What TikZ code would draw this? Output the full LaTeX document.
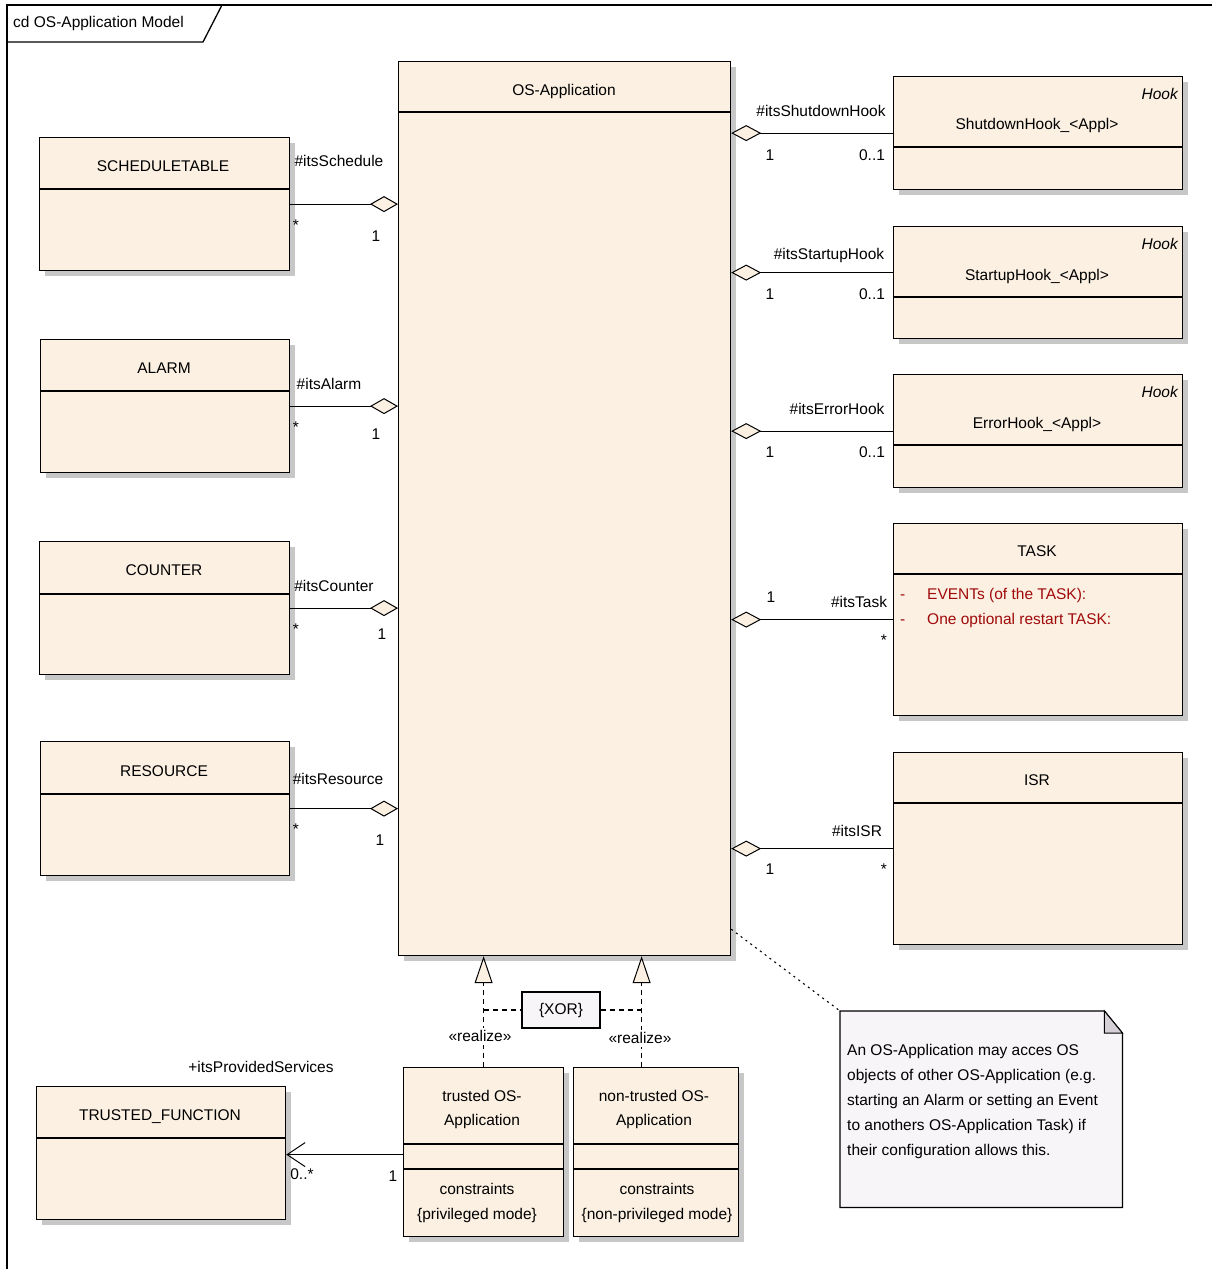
\documentclass[tikz,border=0pt]{standalone}
\usepackage{fontspec}
\setmainfont{Liberation Sans}
\usetikzlibrary{arrows.meta,shadows,calc}
\definecolor{boxfill}{RGB}{251,240,226}
\definecolor{notefill}{RGB}{248,245,248}
\definecolor{foldfill}{RGB}{212,208,214}
\definecolor{attred}{RGB}{160,10,10}
\newcommand\umlcls[6]{%
  \node[umlbox, anchor=north west, minimum width=#4pt, minimum height=#5pt] (#1) at (#2,#3) {};
  \draw[line width=1.2pt] ([yshift=-#6pt]#1.north west) -- ([yshift=-#6pt]#1.north east);
}
\begin{document}
\begin{tikzpicture}[x=1pt,y=-1pt,
  font=\fontsize{15.5}{18}\selectfont,
  umlbox/.style={draw, line width=1.2pt, fill=boxfill, inner sep=0pt,
    drop shadow={shadow xshift=5pt, shadow yshift=-5pt, fill=black!22, opacity=1}},
  lbl/.style={inner sep=0pt, text height=11pt, text depth=0pt},
  ttl/.style={inner sep=0pt, text height=11pt, text depth=0pt},
  aggr/.style={line width=1.2pt, -{Diamond[fill=boxfill, length=28pt, width=16pt, line width=1pt]}},
  aggl/.style={line width=1.2pt, {Diamond[fill=boxfill, length=30pt, width=16pt, line width=1pt]}-},
  realize/.style={line width=1.1pt, dash pattern=on 5pt off 4pt, -{Triangle[fill=boxfill, length=27pt, width=18pt, line width=1pt, sep=0pt]}},
  xorline/.style={line width=1.1pt, dash pattern=on 5pt off 4pt},
  dep/.style={line width=1.2pt, -{Straight Barb[length=18pt, width=24pt, line width=1pt]}},
  notelink/.style={line width=1.1pt, dash pattern=on 2pt off 4pt}
]
\useasboundingbox (0,0) rectangle (1211,1269);
\fill[white] (0,0) rectangle (1211,1269);
% frame
\draw[line width=1.3pt] (7,1280) -- (7,5) -- (1220,5);
\draw[line width=1.3pt] (7,42) -- (203,42) -- (222,5);
\node[anchor=west, lbl] (frametitle) at (13,22) {cd OS-Application Model};

% classes
\umlcls{osapp}{398}{61}{332}{894}{51}
\umlcls{sched}{39}{137}{250}{133}{52}
\umlcls{alarm}{40}{339}{249}{133}{52}
\umlcls{counter}{39}{541}{250}{133}{53}
\umlcls{resource}{40}{741}{249}{134}{53}
\umlcls{shut}{893}{76}{289}{113}{71}
\umlcls{start}{893}{226}{289}{112}{71}
\umlcls{err}{893}{374}{289}{113}{71}
\umlcls{task}{893}{523}{289}{192}{51}
\umlcls{isr}{893}{752}{289}{192}{51}
\umlcls{tf}{36}{1086}{249}{133}{52}
\umlcls{trusted}{403}{1067}{160}{169}{77}
\draw[line width=1.2pt] ([yshift=-102pt]trusted.north west) -- ([yshift=-102pt]trusted.north east);
\umlcls{nontr}{573}{1067}{165}{169}{77}
\draw[line width=1.2pt] ([yshift=-102pt]nontr.north west) -- ([yshift=-102pt]nontr.north east);

% titles
\node[ttl] (t-osapp) at (564,90) {OS-Application};
\node[ttl] (t-sched) at (163,166) {SCHEDULETABLE};
\node[ttl] (t-alarm) at (164,368) {ALARM};
\node[ttl] (t-counter) at (164,570) {COUNTER};
\node[ttl] (t-resource) at (164,771) {RESOURCE};
\node[ttl, anchor=east] (s-shut) at (1178,94) {\itshape Hook};
\node[ttl] (t-shut) at (1037,124) {ShutdownHook\_<Appl>};
\node[ttl, anchor=east] (s-start) at (1178,244) {\itshape Hook};
\node[ttl] (t-start) at (1037,275) {StartupHook\_<Appl>};
\node[ttl, anchor=east] (s-err) at (1178,392) {\itshape Hook};
\node[ttl] (t-err) at (1037,423) {ErrorHook\_<Appl>};
\node[ttl] (t-task) at (1037,551) {TASK};
\node[ttl, anchor=west, text=attred] (a1d) at (900,594) {-};
\node[ttl, anchor=west, text=attred] (a1) at (927,594) {EVENTs (of the TASK):};
\node[ttl, anchor=west, text=attred] (a2d) at (900,619) {-};
\node[ttl, anchor=west, text=attred] (a2) at (927,619) {One optional restart TASK:};
\node[ttl] (t-isr) at (1037,780) {ISR};
\node[ttl] (t-tf) at (160,1115) {TRUSTED\_FUNCTION};
\node[inner sep=0pt, align=center, font=\fontsize{15.5}{24}\selectfont] (t-trusted) at (482,1109) {trusted OS-\\Application};
\node[inner sep=0pt, align=center, font=\fontsize{15.5}{25}\selectfont] (c-trusted) at (477,1203) {constraints\\\{privileged mode\}};
\node[inner sep=0pt, align=center, font=\fontsize{15.5}{24}\selectfont] (t-nontr) at (654,1109) {non-trusted OS-\\Application};
\node[inner sep=0pt, align=center, font=\fontsize{15.5}{25}\selectfont] (c-nontr) at (657,1203) {constraints\\\{non-privileged mode\}};

% left aggregations
\draw[aggr] (sched.east) -- (sched.east -| osapp.west);
\draw[aggr] (alarm.east) -- (alarm.east -| osapp.west);
\draw[aggr] (counter.east) -- (counter.east -| osapp.west);
\draw[aggr] (resource.east) -- (resource.east -| osapp.west);
% right aggregations
\draw[aggl] (osapp.east |- shut.west) -- (shut.west);
\coordinate (startc) at ([yshift=10pt]start.west);
\draw[aggl] (osapp.east |- startc) -- (startc);
\draw[aggl] (osapp.east |- err.west) -- (err.west);
\draw[aggl] (osapp.east |- task.west) -- (task.west);
\draw[aggl] (osapp.east |- isr.west) -- (isr.west);

% association labels
\node[lbl] (l-s1) at (339,161) {\#itsSchedule};
\node[lbl] (l-s2) at (296,225) {*};
\node[lbl] (l-s3) at (376,236) {1};
\node[lbl] (l-a1) at (329,384) {\#itsAlarm};
\node[lbl] (l-a2) at (296,427) {*};
\node[lbl] (l-a3) at (376,434) {1};
\node[lbl] (l-c1) at (334,586) {\#itsCounter};
\node[lbl] (l-c2) at (296,629) {*};
\node[lbl] (l-c3) at (382,634) {1};
\node[lbl] (l-r1) at (338,779) {\#itsResource};
\node[lbl] (l-r2) at (296,829) {*};
\node[lbl] (l-r3) at (380,840) {1};
\node[lbl] (l-h1) at (821,111) {\#itsShutdownHook};
\node[lbl] (l-h2) at (770,155) {1};
\node[lbl] (l-h3) at (872,155) {0..1};
\node[lbl] (l-p1) at (829,254) {\#itsStartupHook};
\node[lbl] (l-p2) at (770,294) {1};
\node[lbl] (l-p3) at (872,294) {0..1};
\node[lbl] (l-e1) at (837,409) {\#itsErrorHook};
\node[lbl] (l-e2) at (770,452) {1};
\node[lbl] (l-e3) at (872,452) {0..1};
\node[lbl] (l-t1) at (771,597) {1};
\node[lbl] (l-t2) at (859,602) {\#itsTask};
\node[lbl] (l-t3) at (884,640) {*};
\node[lbl] (l-i1) at (857,831) {\#itsISR};
\node[lbl] (l-i2) at (770,869) {1};
\node[lbl] (l-i3) at (884,869) {*};

% realizations
\coordinate (rt) at (trusted.north);
\coordinate (rn) at ([xshift=-14.5pt]nontr.north);
\draw[realize] (rt) -- (rt |- osapp.south);
\draw[realize] (rn) -- (rn |- osapp.south);
\node[draw, line width=1.1pt, fill=notefill, minimum width=78pt, minimum height=36pt, inner sep=0pt] (xor) at (561,1010) {\{XOR\}};
\draw[xorline] (rt |- xor.west) -- (xor.west);
\draw[xorline] (xor.east) -- (rn |- xor.east);
\node[lbl, fill=white, inner xsep=1pt, inner ysep=3pt] (l-rz1) at (480,1036) {«realize»};
\node[lbl, fill=white, inner xsep=1pt, inner ysep=3pt] (l-rz2) at (640,1038) {«realize»};

% dependency to trusted function
\coordinate (dp) at ([yshift=-2.5pt]trusted.west);
\draw[dep] (dp) -- (dp -| tf.east);
\node[lbl] (l-d1) at (261,1067) {+itsProvidedServices};
\node[lbl] (l-d2) at (302,1174) {0..*};
\node[lbl] (l-d3) at (393,1176) {1};

% note
\node[anchor=north west, minimum width=282pt, minimum height=196pt, inner sep=0pt] (note) at (840,1011) {};
\draw[line width=1.2pt, fill=notefill] (note.north west) -- ([xshift=-18pt]note.north east) -- ([yshift=-22pt]note.north east) -- (note.south east) -- (note.south west) -- cycle;
\draw[line width=1pt, fill=foldfill] ([xshift=-18pt]note.north east) -- ([xshift=-18pt,yshift=-22pt]note.north east) -- ([yshift=-22pt]note.north east) -- cycle;
\node[anchor=north west, inner sep=0pt, align=left, font=\fontsize{15.5}{25}\selectfont] (notetext) at (847,1044) {An OS-Application may acces OS\\objects of other OS-Application (e.g.\\starting an Alarm or setting an Event\\to anothers OS-Application Task) if\\their configuration allows this.};
\draw[notelink] ([yshift=27pt]osapp.south east) -- (note.north west);
\end{tikzpicture}
\end{document}
